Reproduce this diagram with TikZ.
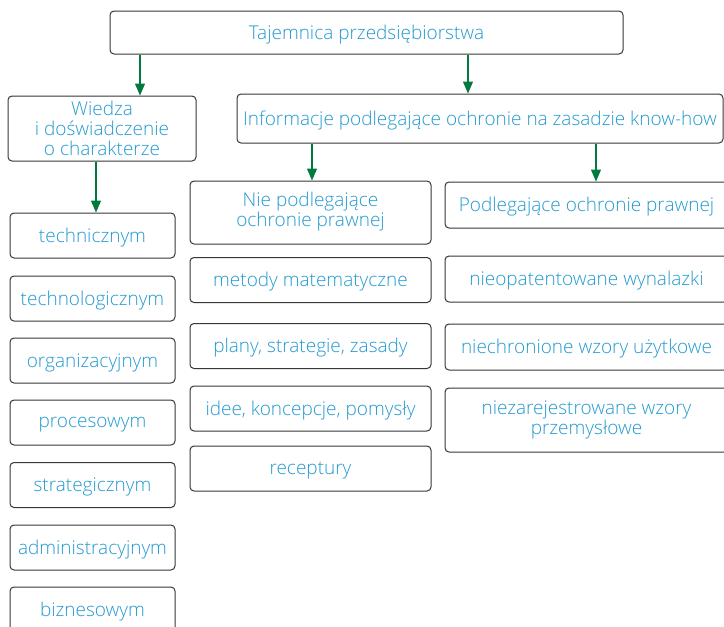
\documentclass[tikz,border=0pt]{standalone}
\usepackage{fontspec}
\setmainfont{Open Sans Light}
\usetikzlibrary{arrows.meta}
\definecolor{txtblue}{RGB}{36,154,208}
\definecolor{edgegray}{RGB}{55,55,55}
\definecolor{arrgreen}{RGB}{0,122,61}
\tikzset{
  box/.style={draw=edgegray, line width=1pt, rounded corners=4pt, fill=white,
    minimum height=45pt},
  lbl/.style={text=txtblue, align=center, inner sep=0pt, yshift=-2pt,
    font=\fontsize{19}{20}\selectfont},
  txt/.style={label={[lbl]center:#1}},
  txtm/.style={label={[lbl,yshift=2.5pt]center:#1}},
  leftbox/.style={box, minimum width=165pt},
  midbox/.style={box, minimum width=241pt},
  rightbox/.style={box, minimum width=283pt, minimum height=46pt},
  arr/.style={draw=arrgreen, line width=1.1pt, -{Triangle[width=10pt,length=12pt]}}
}
\begin{document}
\begin{tikzpicture}[x=1pt,y=1pt]
\useasboundingbox (0,0) rectangle (724,-627);
\begin{scope}
\clip (0,0) rectangle (724,-627);
% top level
\node[box, minimum width=513pt, minimum height=43pt, txt={Tajemnica przedsiębiorstwa}] (top) at (366.5,-32.5) {};
\node[box, minimum width=188pt, minimum height=65pt, txtm={Wiedza\\i doświadczenie\\o charakterze}] (wiedza) at (102,-128.5) {};
\node[box, minimum width=486pt, minimum height=49pt, txt={Informacje podlegające ochronie na zasadzie know-how}] (info) at (480,-118.5) {};
% left column
\node[leftbox, txt=technicznym] (l1) at (92.5,-235.5) {};
\node[leftbox, txt=technologicznym] (l2) at (92.5,-298.5) {};
\node[leftbox, txt=organizacyjnym] (l3) at (92.5,-360.5) {};
\node[leftbox, txt=procesowym] (l4) at (92.5,-422.5) {};
\node[leftbox, txt=strategicznym] (l5) at (92.5,-485) {};
\node[leftbox, txt=administracyjnym] (l6) at (92.5,-547.5) {};
\node[leftbox, txt=biznesowym] (l7) at (92.5,-609.5) {};
% middle column
\node[midbox, minimum height=63pt, txtm={Nie podlegające\\ochronie prawnej}] (m0) at (310.5,-212.5) {};
\node[midbox, txt={metody matematyczne}] (m1) at (310.5,-280) {};
\node[midbox, txt={plany, strategie, zasady}] (m2) at (310.5,-346) {};
\node[midbox, txt={idee, koncepcje, pomysły}] (m3) at (310.5,-408.5) {};
\node[midbox, txt=receptury] (m4) at (310.5,-468.5) {};
% right column
\node[rightbox, txt={Podlegające ochronie prawnej}] (r0) at (586.5,-205) {};
\node[rightbox, txt={nieopatentowane wynalazki}] (r1) at (586.5,-279) {};
\node[rightbox, txt={niechronione wzory użytkowe}] (r2) at (586.5,-347) {};
\node[rightbox, minimum height=64pt, txtm={niezarejestrowane wzory\\przemysłowe}] (r3) at (586.5,-420) {};
% arrow positions
\coordinate (a1) at (140,0);
\coordinate (a2) at (468,0);
\coordinate (a3) at (96,0);
\coordinate (a4) at (312,0);
\coordinate (a5) at (596,0);
\draw[arr] (top.south -| a1) -- (wiedza.north -| a1);
\draw[arr] (top.south -| a2) -- (info.north -| a2);
\draw[arr] (wiedza.south -| a3) -- (l1.north -| a3);
\draw[arr] (info.south -| a4) -- (m0.north -| a4);
\draw[arr] (info.south -| a5) -- (r0.north -| a5);
\end{scope}
\end{tikzpicture}
\end{document}
